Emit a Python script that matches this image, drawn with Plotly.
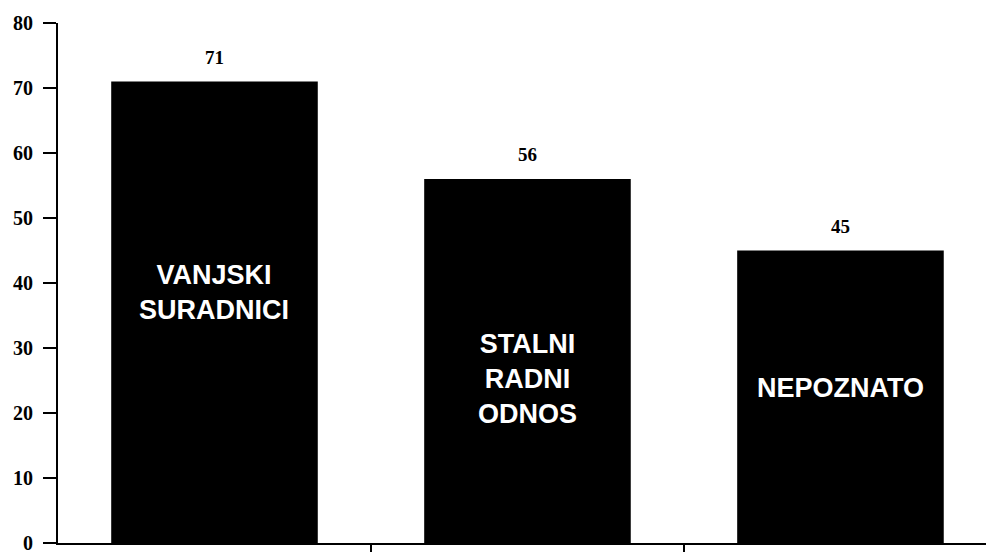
import plotly.graph_objects as go

# values
categories = ["VANJSKI<br>SURADNICI", "STALNI<br>RADNI<br>ODNOS", "NEPOZNATO"]
counts = [71, 56, 45]
label_y = [38.6, 25.2, 23.9]   # where the white category text sits inside each bar
y_ticks = [0, 10, 20, 30, 40, 50, 60, 70, 80]

xs = list(range(len(categories)))

fig = go.Figure()
fig.add_trace(go.Bar(
    x=xs,
    y=counts,
    width=0.66,
    marker=dict(color="black", line=dict(width=0)),
    hoverinfo="skip",
))

# value above each bar
for x, v in zip(xs, counts):
    fig.add_annotation(
        x=x, y=v, text=str(v), showarrow=False,
        yanchor="bottom", yshift=12,
        font=dict(family="Liberation Serif", size=19, color="black", weight="bold"),
    )

# category names in white inside the bars
for x, name, ly in zip(xs, categories, label_y):
    fig.add_annotation(
        x=x, y=ly, text="<b>" + name + "</b>", showarrow=False,
        font=dict(family="Liberation Sans", size=27, color="white"),
    )

fig.update_xaxes(
    range=[-0.5, 2.465],
    tickmode="array", tickvals=[0.5, 1.5], ticktext=["", ""],
    ticks="outside", ticklen=7, tickwidth=1.5, tickcolor="black",
    showline=True, linecolor="black", linewidth=2,
    showgrid=False, zeroline=False,
)
fig.update_yaxes(
    range=[0, 80],
    tickmode="array", tickvals=y_ticks,
    ticks="outside", ticklen=13, tickwidth=2, tickcolor="black",
    ticklabelstandoff=6, ticklabeloverflow="allow",
    showline=True, linecolor="black", linewidth=2,
    showgrid=False, zeroline=False,
    tickfont=dict(family="Liberation Serif", size=20, color="black", weight="bold"),
)
fig.update_layout(
    width=986, height=554,
    margin=dict(l=58, r=0, t=23, b=5),
    plot_bgcolor="white", paper_bgcolor="white",
    showlegend=False,
)

# drop the page's default body margin so the figure sits at the window corner
fig.write_html("out.html", config={"displayModeBar": False},
               post_script="document.body.style.margin='0';")
